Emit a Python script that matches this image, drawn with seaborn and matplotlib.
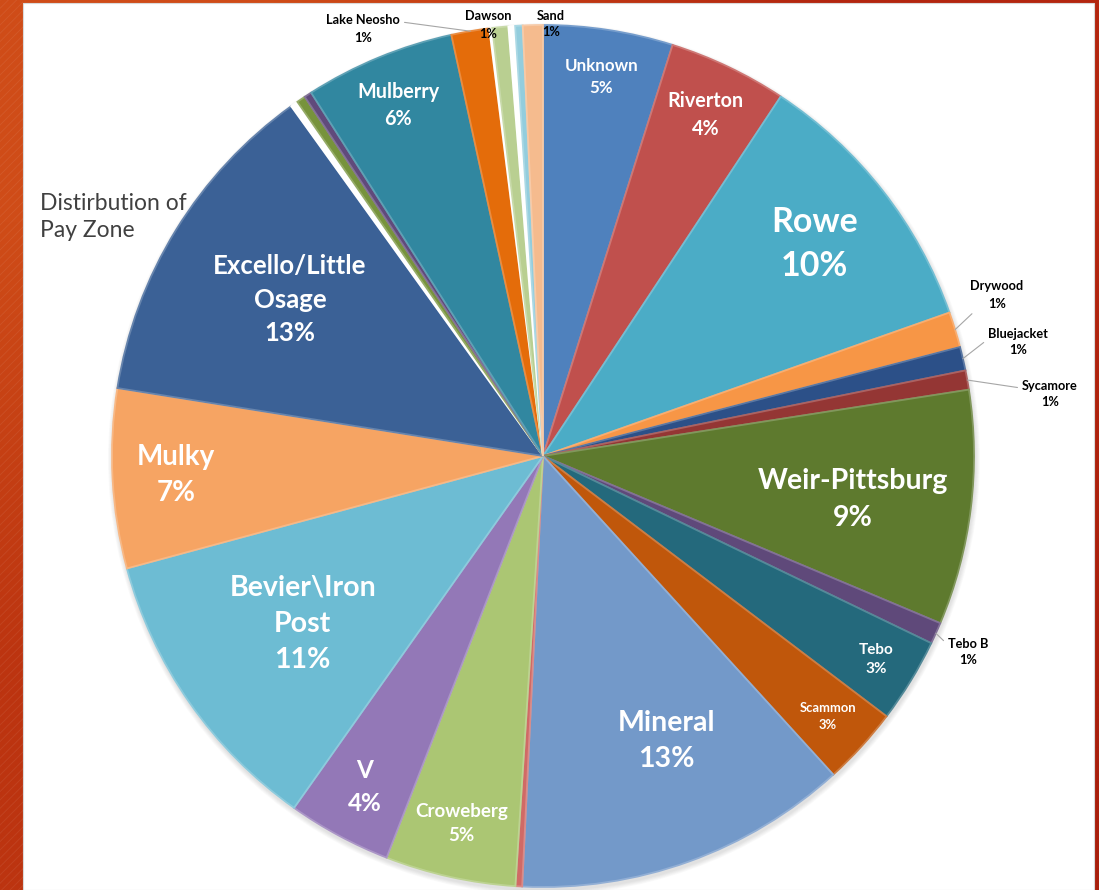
import numpy as np
import matplotlib
matplotlib.use("Agg")
import matplotlib.pyplot as plt
import seaborn as sns
from matplotlib.patches import Rectangle, Circle
from matplotlib.colors import to_rgb

# Pay-zone names, clockwise from 12 o'clock (blank = unlabelled sliver)
zones = ["Unknown", "Riverton", "Rowe", "Drywood", "Bluejacket", "Sycamore",
         "Weir-Pittsburg", "Tebo B", "Tebo", "Scammon", "Mineral", "",
         "Croweberg", "V", "Bevier\\Iron\nPost", "Mulky", "Excello/Little\nOsage",
         "", "", "", "Mulberry", "Lake Neosho", "", "Dawson", "", "", "Sand"]

# Share of wells per pay zone (%)
share = [4.86, 4.44, 10.30, 1.33, 0.89, 0.72,
         8.80, 0.81, 3.17, 2.92, 12.53, 0.25,
         4.89, 3.89, 11.00, 6.72, 12.55,
         0.28, 0.33, 0.28, 5.63, 1.42, 0.11, 0.60, 0.25, 0.28, 0.75]

colors = ["#4F81BD", "#C0504D", "#4BACC6", "#F79646", "#2C5088", "#943634",
          "#5E7A2E", "#5F497A", "#24697C", "#C0570B", "#7399C9", "#D06A66",
          "#ABC673", "#9378B7", "#6DBCD3", "#F6A463", "#3B6196",
          "#FFFFFF", "#77933C", "#604A7B", "#3187A0", "#E46C0A", "#FFFFFF",
          "#B9CF91", "#FFFFFF", "#93CDDD", "#F5BB8E"]

title_text = "Distirbution of\nPay Zone"

# ---- label layout ----
# inside labels: radial fraction along the wedge bisector, font size, angle nudge (deg)
inside = {
    "Unknown": (0.89, 12.2, 0), "Riverton": (0.876, 14.2, 0), "Rowe": (0.80, 24.5, 0),
    "Weir-Pittsburg": (0.727, 20.5, -1), "Tebo": (0.905, 11, 0),
    "Scammon": (0.896, 9.4, 0), "Mineral": (0.72, 20.5, 3.7),
    "Croweberg": (0.874, 13.5, 0), "V": (0.872, 17.5, 0),
    "Bevier\\Iron\nPost": (0.68, 20.5, 0), "Mulky": (0.853, 20, 0),
    "Excello/Little\nOsage": (0.69, 18.5, 0), "Mulberry": (0.88, 14.2, 0),
}
# outside labels: text centre (px from top-left), leader-line start (relpos) or None
outside = {
    "Lake Neosho": ((363, 29), (1.0, 0.75)),
    "Dawson": ((488, 25), None),
    "Sand": ((551, 24), None),
    "Drywood": ((997, 295), (0.2, 0.15)),
    "Bluejacket": ((1018, 342), (0.0, 0.6)),
    "Sycamore": ((1050, 394), (0.0, 0.7)),
    "Tebo B": ((968, 652), (0.0, 0.75)),
}

W, H = 1099, 890
CX, CY, R = 543, H - 456, 431

sns.set_theme(style="white")
plt.rcParams["font.family"] = ["Lato", "DejaVu Sans"]
palette = sns.color_palette(colors)

fig = plt.figure(figsize=(W / 100, H / 100), dpi=100)
ax = fig.add_axes([0, 0, 1, 1])

# orange slide background with a subtle diagonal texture on the left strip
grad = np.array([[to_rgb("#CF4C18"), to_rgb("#B3260F")],
                 [to_rgb("#BC3410"), to_rgb("#A91F0C")]])
ax.imshow(grad, extent=(0, W, 0, H), interpolation="bilinear", zorder=0, aspect="auto")
plt.rcParams["hatch.linewidth"] = 0.7
ax.add_patch(Rectangle((0, 0), 23, H, fill=False, hatch="////",
                       edgecolor=(1, 1, 1, 0.07), lw=0, zorder=0.5))
ax.add_patch(Rectangle((23, 0), 1094 - 23, H - 3, facecolor="white",
                       edgecolor="#DADADA", lw=0.8, zorder=1))

# soft shadow below the pie
for i in range(6):
    ax.add_patch(Circle((CX + 1, CY - 3), R + 1 + i * 0.8, facecolor="black",
                        alpha=0.018, lw=0, zorder=1.5))

wedges, _ = ax.pie(share, colors=palette, startangle=90, counterclock=False,
                   center=(CX, CY), radius=R,
                   wedgeprops=dict(linewidth=1.3))
for w, c in zip(wedges, palette):
    c = np.array(c)
    w.set_edgecolor(tuple(c + (1 - c) * 0.22))
    w.set_zorder(2)

total = sum(share)
for name, val, w in zip(zones, share, wedges):
    if not name:
        continue
    pct = int(val / total * 100 + 0.5)
    label = f"{name}\n{pct}%"
    mid_deg = (w.theta1 + w.theta2) / 2
    if name in inside:
        frac, size, nudge = inside[name]
        mid = np.deg2rad(mid_deg + nudge)
        x = CX + R * frac * np.cos(mid)
        y = CY + R * frac * np.sin(mid)
        ax.text(x, y, label, ha="center", va="center", color="white",
                fontsize=size, fontweight="bold", linespacing=1.48, zorder=4)
    else:
        mid = np.deg2rad(mid_deg)
        (tx, ty), rel = outside[name]
        edge = (CX + R * np.cos(mid), CY + R * np.sin(mid))
        if rel is None:
            ax.text(tx, H - ty, label, ha="center", va="center", color="black",
                    fontsize=9.2, fontweight="bold", linespacing=1.5, zorder=4)
        else:
            ax.annotate(label, xy=edge, xytext=(tx, H - ty), ha="center", va="center",
                        color="black", fontsize=9.2, fontweight="bold",
                        linespacing=1.5, zorder=4,
                        arrowprops=dict(arrowstyle="-", color="#A6A6A6", lw=0.8,
                                        relpos=rel, shrinkA=1, shrinkB=0))

ax.text(40, H - 217, title_text, ha="left", va="center", color="#404040",
        fontsize=16.5, linespacing=1.4, zorder=4)

ax.set_xlim(0, W)
ax.set_ylim(0, H)
ax.axis("off")
fig.savefig("out.png", dpi=100)
